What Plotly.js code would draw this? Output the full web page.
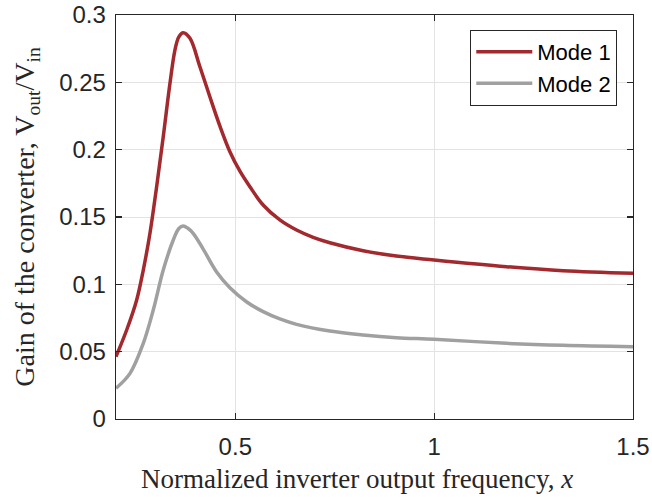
<!DOCTYPE html>
<html>
<head>
<meta charset="utf-8">
<script src="https://cdn.plot.ly/plotly-3.0.1.min.js"></script>
<style>html,body{margin:0;padding:0;background:#fff;}#chart{width:652px;height:497px;}</style>
</head>
<body>
<div id="chart"></div>
<script>
// Normalized inverter output frequency, x
var mode1X = [0.2, 0.2268, 0.252, 0.2686, 0.2854, 0.3022, 0.3188, 0.3357, 0.3482, 0.358, 0.369, 0.386, 0.411, 0.436, 0.4613, 0.4864, 0.5116, 0.5367, 0.570, 0.612, 0.654, 0.6957, 0.7377, 0.8214, 0.905, 1.0, 1.1817, 1.324, 1.5];
var mode1Y = [0.0463, 0.0661, 0.0884, 0.1106, 0.1379, 0.1725, 0.2096, 0.2493, 0.274, 0.2838, 0.2869, 0.2827, 0.2616, 0.2393, 0.2175, 0.1985, 0.184, 0.1725, 0.1589, 0.1478, 0.1403, 0.1349, 0.1309, 0.125, 0.121, 0.1181, 0.1131, 0.1101, 0.1082];
var mode2X = [0.2, 0.2352, 0.2686, 0.2937, 0.3188, 0.344, 0.358, 0.369, 0.38, 0.394, 0.4193, 0.453, 0.4864, 0.528, 0.570, 0.612, 0.654, 0.7377, 0.8214, 0.905, 1.0, 1.1817, 1.324, 1.5];
var mode2Y = [0.0228, 0.0339, 0.0562, 0.0809, 0.1106, 0.1329, 0.1415, 0.1433, 0.1418, 0.1379, 0.1262, 0.1092, 0.0975, 0.0871, 0.0797, 0.0743, 0.0703, 0.0653, 0.0624, 0.0604, 0.0592, 0.0562, 0.0547, 0.0537];
var seriesNames = ["Mode 1", "Mode 2"];
var xTicks = [0.5, 1, 1.5];
var xTickText = ["0.5", "1", "1.5"];
var yTicks = [0, 0.05, 0.1, 0.15, 0.2, 0.25, 0.3];
var yTickText = ["0", "0.05", "0.1", "0.15", "0.2", "0.25", "0.3"];

var traces = [
  {x: mode1X, y: mode1Y, name: seriesNames[0], mode: "lines", type: "scatter",
   line: {color: "#a2292d", width: 3.5, shape: "spline", smoothing: 1}},
  {x: mode2X, y: mode2Y, name: seriesNames[1], mode: "lines", type: "scatter",
   line: {color: "#a0a0a0", width: 3.5, shape: "spline", smoothing: 1}}
];

var axisCommon = {
  showline: true, linecolor: "#262626", linewidth: 1.3, mirror: "allticks",
  ticks: "inside", ticklen: 6, tickcolor: "#262626", tickwidth: 1.3,
  showgrid: true, gridcolor: "#e3e3e3", gridwidth: 1, zeroline: false,
  tickfont: {family: "Liberation Sans, Arial, sans-serif", size: 24, color: "#262626"}
};

var layout = {
  width: 652, height: 497,
  margin: {l: 116, r: 19, t: 15, b: 78},
  paper_bgcolor: "#fff", plot_bgcolor: "#fff",
  showlegend: true,
  legend: {x: 0.9696, xanchor: "right", y: 0.963, yanchor: "top",
    bgcolor: "#fff", bordercolor: "#262626", borderwidth: 1, itemwidth: 56,
    font: {family: "Liberation Sans, Arial, sans-serif", size: 22, color: "#000"},
    tracegroupgap: 0},
  xaxis: Object.assign({}, axisCommon, {
    range: [0.2, 1.5], tickvals: xTicks, ticktext: xTickText, ticklabelstandoff: 6
  }),
  yaxis: Object.assign({}, axisCommon, {
    range: [0, 0.3], tickvals: yTicks, ticktext: yTickText, ticklabelstandoff: 4,
    title: {text: "Gain of the converter, V<sub>out</sub>/V<sub>in</sub>", standoff: 16,
      font: {family: "Liberation Serif, Times New Roman, serif", size: 28, color: "#262626"}}
  }),
  annotations: [{
    text: "Normalized inverter output frequency, <i>x</i>",
    xref: "paper", yref: "paper", x: 0.466, xanchor: "center",
    y: -0.191, yanchor: "bottom", showarrow: false,
    font: {family: "Liberation Serif, Times New Roman, serif", size: 27, color: "#262626"}
  }]
};

Plotly.newPlot("chart", traces, layout, {displayModeBar: false, staticPlot: true});
</script>
</body>
</html>
